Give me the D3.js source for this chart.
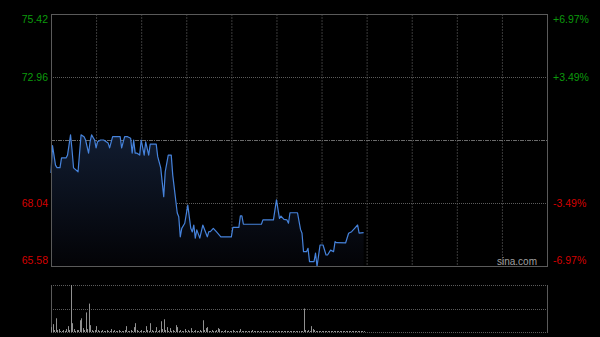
<!DOCTYPE html>
<html>
<head>
<meta charset="utf-8">
<script src="https://cdn.jsdelivr.net/npm/d3@7/dist/d3.min.js"></script>
<style>
  html, body { margin: 0; padding: 0; background: #000; }
  #chart { width: 600px; height: 337px; }
  text { font-family: "Liberation Sans", Arial, sans-serif; }
</style>
</head>
<body>
<div id="chart"></div>
<script>
// price axis ticks (prev close in the middle) and % change labels
var priceTicks = [75.42, 72.96, 70.50, 68.04, 65.58];
var pctLabels = ["+6.97%", "+3.49%", "", "-3.49%", "-6.97%"];
var prevClose = 70.50;
var totalMinutes = 330; // HK session, 11 half hours

// [minute, price]
var priceMinutes = [0, 1, 3, 4, 6, 7, 10, 11, 13, 14, 15, 18, 20, 22, 23, 25, 26, 27, 29, 30,
    31, 33, 35, 38, 39, 41, 46, 47, 49, 51, 53, 54, 55, 56, 57, 59, 60, 62, 63, 65,
    66, 70, 71, 73, 75, 76, 78, 80, 81, 84, 85, 86, 87, 89, 91, 93, 94, 95, 96, 97,
    99, 101, 104, 105, 106, 108, 110, 113, 120, 121, 125, 126, 127, 128, 140, 141, 148, 150, 152, 153,
    155, 157, 158, 159, 164, 166, 167, 168, 170, 171, 172, 175, 176, 177, 179, 181, 183, 184, 186, 188,
    189, 190, 196, 198, 200, 202, 204, 205, 208];
var prices = [69.21, 70.28, 69.52, 69.42, 69.42, 69.80, 69.80, 69.91, 70.70, 70.11, 69.41, 69.26, 70.70, 70.63, 70.50, 69.99, 70.43, 70.70, 70.50, 70.19,
    70.43, 70.50, 70.50, 70.38, 70.19, 70.63, 70.63, 70.19, 70.63, 70.63, 70.57, 69.99, 70.50, 69.99, 69.99, 69.91, 70.50, 69.91, 70.43, 69.91,
    70.34, 70.34, 69.85, 69.41, 68.29, 69.26, 69.91, 69.91, 69.13, 67.65, 67.50, 66.72, 67.05, 67.25, 67.96, 67.05, 66.91, 67.18, 66.67, 66.99,
    66.67, 67.18, 66.72, 66.92, 66.92, 67.05, 66.92, 66.72, 66.72, 67.09, 67.09, 67.54, 67.54, 67.21, 67.21, 67.38, 67.38, 68.16, 67.44, 67.53,
    67.40, 67.38, 67.25, 67.66, 67.66, 67.01, 66.86, 66.14, 66.14, 66.27, 65.75, 65.75, 66.08, 65.56, 66.40, 66.40, 66.01, 66.01, 66.20, 66.14,
    66.53, 66.49, 66.48, 66.86, 66.92, 67.05, 67.18, 66.86, 66.88];

// volume per minute, minute 0 onwards
var volumes = [
    5, 8, 2, 14, 2, 3, 1, 1, 2, 1,
    3, 6, 2, 48, 9, 3, 1, 2, 2, 12,
    14, 4, 2, 20, 3, 29, 7, 2, 1, 2,
    6, 2, 1, 1, 2, 1, 1, 2, 1, 1,
    3, 1, 2, 1, 1, 2, 1, 1, 1, 2,
    6, 1, 1, 2, 1, 5, 9, 2, 1, 1,
    2, 1, 1, 6, 2, 1, 9, 2, 1, 1,
    5, 1, 2, 11, 3, 13, 2, 5, 1, 4,
    1, 2, 1, 7, 5, 1, 2, 1, 1, 3,
    1, 2, 1, 4, 1, 1, 2, 1, 1, 2,
    1, 12, 2, 4, 5, 1, 1, 2, 1, 1,
    2, 4, 3, 1, 1, 1, 2, 1, 1, 1,
    1, 2, 1, 1, 1, 1, 3, 1, 1, 1,
    1, 1, 1, 1, 2, 1, 1, 1, 1, 1,
    1, 1, 1, 1, 1, 1, 1, 1, 1, 1,
    1, 1, 1, 1, 1, 1, 1, 1, 1, 1,
    1, 1, 1, 1, 1, 1, 1, 1, 24, 2,
    1, 2, 1, 6, 3, 2, 1, 1, 1, 1,
    1, 1, 1, 1, 1, 1, 1, 1, 1, 1,
    1, 1, 1, 1, 1, 1, 1, 1, 1, 1,
    1, 1, 1, 1, 1, 1, 1, 1, 1
];

var colors = {
    up: "#0c9a0c",
    down: "#d40000",
    line: "#4683dc",
    frame: "#5a5a5a",
    grid: "#3a3a3a",
    hgrid: "#5c5c5c",
    volume: "#909090"
};

var main = {left: 51, right: 547, top: 14, bottom: 266};
var vol = {left: 51, right: 547, top: 285, bottom: 332};

var svg = d3.select("#chart").append("svg")
    .attr("width", 600)
    .attr("height", 337);

svg.append("rect").attr("width", 600).attr("height", 337).attr("fill", "#000");

var x = d3.scaleLinear().domain([0, totalMinutes]).range([main.left, main.right]);
var y = d3.scaleLinear().domain([priceTicks[4], priceTicks[0]]).range([main.bottom, main.top]);
var yVol = d3.scaleLinear().domain([0, d3.max(volumes)]).range([vol.bottom, vol.top]);

// gradient under the price line
var grad = svg.append("defs").append("linearGradient")
    .attr("id", "areaFill")
    .attr("x1", 0).attr("y1", 0).attr("x2", 0).attr("y2", 1);
grad.append("stop").attr("offset", "0%").attr("stop-color", "#111c30");
grad.append("stop").attr("offset", "100%").attr("stop-color", "#030306");

// vertical grid, every half hour
var halfHours = d3.range(30, totalMinutes, 30);
svg.append("g").selectAll("line")
    .data(halfHours).enter()
    .append("line")
        .attr("x1", d => x(d) + 0.5).attr("x2", d => x(d) + 0.5)
        .attr("y1", main.top).attr("y2", main.bottom)
        .attr("stroke", colors.grid)
        .attr("stroke-width", 1)
        .attr("stroke-dasharray", "2,1");

// horizontal grid
svg.append("g").selectAll("line")
    .data(priceTicks.slice(1, 4)).enter()
    .append("line")
        .attr("x1", main.left).attr("x2", main.right)
        .attr("y1", d => Math.round(y(d)) + 0.5).attr("y2", d => Math.round(y(d)) + 0.5)
        .attr("stroke", d => d === prevClose ? "#6a6a6a" : colors.hgrid)
        .attr("stroke-width", 1)
        .attr("stroke-dasharray", d => d === prevClose ? "4,1,1,1" : "1,1");

var points = priceMinutes.map((m, i) => [m, prices[i]]);

var area = d3.area()
    .x(d => x(d[0]))
    .y0(main.bottom)
    .y1(d => y(d[1]));
svg.append("path")
    .datum(points)
    .attr("d", area)
    .attr("fill", "url(#areaFill)");

var line = d3.line()
    .x(d => x(d[0]))
    .y(d => y(d[1]));
svg.append("path")
    .datum(points)
    .attr("d", line)
    .attr("fill", "none")
    .attr("stroke", colors.line)
    .attr("stroke-width", 1.2)
    .attr("stroke-linejoin", "round");

// frame
svg.append("rect")
    .attr("x", main.left + 0.5).attr("y", main.top + 0.5)
    .attr("width", main.right - main.left).attr("height", main.bottom - main.top)
    .attr("fill", "none")
    .attr("stroke", colors.frame);

// axis labels
var labelY = (d, i) => {
    var py = y(d);
    if (i === 0) return py + 5;
    if (i === priceTicks.length - 1) return py - 6;
    return py;
};
var labelColor = d => d > prevClose ? colors.up : colors.down;

svg.append("g").selectAll("text")
    .data(priceTicks).enter()
    .filter(d => d !== prevClose)
    .append("text")
        .attr("x", 48)
        .attr("y", d => labelY(d, priceTicks.indexOf(d)))
        .attr("dy", "0.35em")
        .attr("text-anchor", "end")
        .attr("font-size", 10.5)
        .attr("fill", labelColor)
        .text(d => d.toFixed(2));

svg.append("g").selectAll("text")
    .data(priceTicks).enter()
    .filter(d => d !== prevClose)
    .append("text")
        .attr("x", 553)
        .attr("y", d => labelY(d, priceTicks.indexOf(d)))
        .attr("dy", "0.35em")
        .attr("font-size", 10.5)
        .attr("fill", labelColor)
        .text(d => pctLabels[priceTicks.indexOf(d)]);

// watermark
svg.append("text")
    .attr("x", 537).attr("y", 265)
    .attr("text-anchor", "end")
    .attr("font-size", 10)
    .attr("fill", "#a0a0a0")
    .text("sina.com");

// volume panel
var volGrid = [vol.top, (vol.top + vol.bottom) / 2, vol.bottom];
svg.append("g").selectAll("line")
    .data(volGrid).enter()
    .append("line")
        .attr("x1", vol.left).attr("x2", vol.right)
        .attr("y1", d => Math.round(d) + 0.5).attr("y2", d => Math.round(d) + 0.5)
        .attr("stroke", colors.hgrid)
        .attr("stroke-dasharray", "1,1");

svg.append("g").selectAll("line")
    .data([vol.left, vol.right]).enter()
    .append("line")
        .attr("x1", d => d + 0.5).attr("x2", d => d + 0.5)
        .attr("y1", vol.top).attr("y2", vol.bottom + 1)
        .attr("stroke", colors.frame);

svg.append("g").selectAll("line")
    .data(volumes).enter()
    .append("line")
        .attr("x1", (d, i) => Math.round(x(i)) + 0.5)
        .attr("x2", (d, i) => Math.round(x(i)) + 0.5)
        .attr("y1", vol.bottom)
        .attr("y2", d => yVol(d))
        .attr("stroke", colors.volume)
        .attr("stroke-width", 1);
</script>
</body>
</html>
